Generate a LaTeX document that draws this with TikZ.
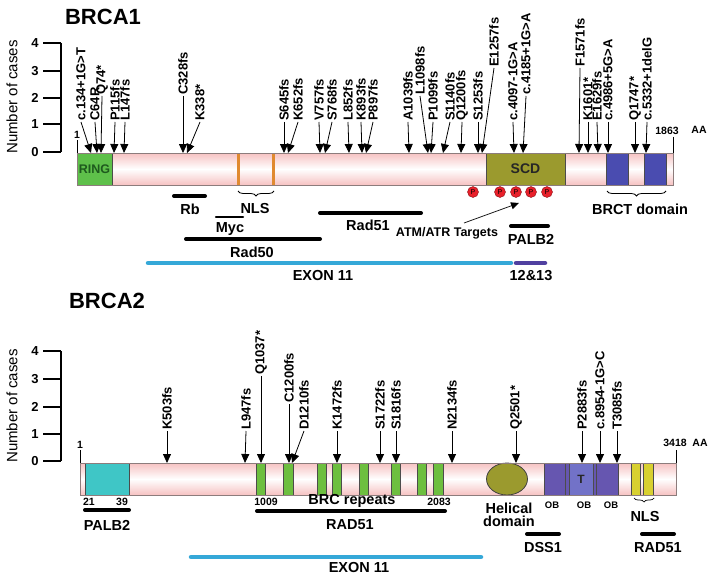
\documentclass[tikz,border=0pt]{standalone}
\usepackage{fontspec}
\setmainfont{Liberation Sans}
\usetikzlibrary{arrows.meta,decorations.pathreplacing,shapes.geometric}
\newcommand\myfs[1]{\fontsize{#1}{#1}\selectfont}
\definecolor{barpk}{HTML}{F6C2C2}
\definecolor{barln}{HTML}{8C7C7C}
\definecolor{ringg}{HTML}{5EC04A}
\definecolor{ringt}{HTML}{1E5A1E}
\definecolor{scdol}{HTML}{9B9A2E}
\definecolor{brctb}{HTML}{4A4CB0}
\definecolor{nlsor}{HTML}{E08A30}
\definecolor{pred}{HTML}{E8202A}
\definecolor{exonc}{HTML}{35A8D8}
\definecolor{ex12}{HTML}{5040A0}
\definecolor{palc}{HTML}{3FC6C6}
\definecolor{brcg}{HTML}{6DBF3F}
\definecolor{obdk}{HTML}{6656B0}
\definecolor{oblt}{HTML}{7272C8}
\definecolor{nlsy}{HTML}{D8D030}
\newcommand\mutarr[6]{\node[mlbl] (#1) at (#2,#3) {#6};\coordinate (#1t) at (#4,#5);\draw[marr] (#1.west) -- (#1t);}
\begin{document}
\begin{tikzpicture}[x=1pt,y=-1pt,
 mlbl/.style={rotate=90, anchor=west, inner sep=1pt, font=\bfseries\myfs{13}},
 marr/.style={line width=0.8pt, -{Triangle[length=9pt,width=8pt]}},
 blk/.style={line width=4pt, line cap=round},
 lab/.style={font=\bfseries\myfs{14.5}, inner sep=0pt},
 small/.style={font=\bfseries\myfs{10.5}, inner sep=0pt},
 tick/.style={font=\bfseries\myfs{13}, inner sep=0pt},
 ttl/.style={font=\bfseries\myfs{22}, inner sep=0pt},
 ylab/.style={font=\myfs{15}, rotate=90, inner sep=0pt},
 barb/.style={draw=barln, line width=1pt},
 dom/.style={draw=black!70, line width=0.6pt},
 ax/.style={line width=1.5pt},
 brc/.style={decorate, decoration={brace, amplitude=5pt}, line width=0.8pt},
 pc/.style={circle, fill=pred, draw=pred!60!black, line width=0.4pt, minimum size=11pt, inner sep=0pt, font=\myfs{7}}
]
\useasboundingbox (0,0) rectangle (709,575);
%================ BRCA1 ================
\node[ttl] (t1) at (103,17) {BRCA1};
\node[ylab] (y1) at (12,97) {Number of cases};
\draw[ax] (61,43) -- (61,152);
\foreach \v/\yy in {4/43,3/71,2/98,1/124,0/152}{
  \draw[ax] (43,\yy) -- (61,\yy);
  \node[tick] (ya\v) at (35,\yy) {\v};}
% bar
\shade[top color=barpk, bottom color=barpk, middle color=white] (77,153) rectangle (673,185);
\fill[ringg] (77,153) rectangle (112,185);
\draw[dom] (112,153) -- (112,185);
\node[font=\bfseries\myfs{12.5}, text=ringt, inner sep=0pt] (ring) at (94.5,169) {RING};
\fill[nlsor] (237,153) rectangle (240,185);
\fill[nlsor] (272,153) rectangle (275,185);
\fill[scdol] (486,153) rectangle (565,185);
\draw[dom] (486,153) rectangle (565,185);
\node[font=\bfseries\myfs{14}, text=black!85, inner sep=0pt] (scd) at (525.5,169) {SCD};
\fill[brctb] (606,153) rectangle (628,185);
\fill[brctb] (644,153) rectangle (666,185);
\draw[dom] (606,153) rectangle (628,185) (644,153) rectangle (666,185);
\draw[barb] (77,153) rectangle (673,185);
\node[small] (one1) at (77,135) {1};
\draw[line width=0.6pt] (77,140) -- (77,153);
\node[small] (len1) at (667,131) {1863};
\node[small] (aa1) at (699,130) {AA};
\draw[line width=0.6pt] (673,137) -- (673,153);
% mutation arrows
\mutarr{a1}{81}{122}{91}{153}{c.134+1G>T}
\mutarr{a2}{95}{122}{97}{153}{C64R}
\mutarr{a3}{102}{96}{101}{153}{Q74*}
\mutarr{a4}{115}{122}{114}{153}{P115fs}
\mutarr{a5}{125}{122}{124}{153}{L147fs}
\mutarr{a6}{183}{96}{183}{153}{C328fs}
\mutarr{a7}{200}{122}{187}{153}{K338*}
\mutarr{a8}{284}{122}{284}{153}{S645fs}
\mutarr{a9}{298}{122}{288}{153}{K652fs}
\mutarr{a10}{319}{122}{320}{153}{V757fs}
\mutarr{a11}{332}{122}{325}{153}{S768fs}
\mutarr{a12}{348}{122}{349}{153}{L852fs}
\mutarr{a13}{361}{122}{362}{153}{K893fs}
\mutarr{a14}{373}{122}{366}{153}{P897fs}
\mutarr{a15}{408}{122}{409}{153}{A1039fs}
\mutarr{a16}{420}{96}{428}{153}{L1098fs}
\mutarr{a17}{433}{122}{431}{153}{P1099fs}
\mutarr{a18}{450}{122}{443}{153}{S1140fs}
\mutarr{a19}{462}{122}{461}{153}{Q1200fs}
\mutarr{a20}{478}{122}{478}{153}{S1253fs}
\mutarr{a21}{494}{68}{482}{153}{E1257fs}
\mutarr{a22}{513}{122}{514}{153}{c.4097-1G>A}
\mutarr{a23}{526}{96}{523}{153}{c.4185+1G>A}
\mutarr{a24}{580}{68}{579}{153}{F1571fs}
\mutarr{a25}{588}{122}{588}{153}{K1601*}
\mutarr{a26}{597}{122}{598}{153}{E1629fs}
\mutarr{a27}{608}{122}{608}{153}{c.4986+5G>A}
\mutarr{a28}{635}{122}{635}{153}{Q1747*}
\mutarr{a29}{647}{122}{646}{153}{c.5332+1delG}
% phospho
\node[pc] (p1) at (473,192) {P};
\node[pc] (p2) at (500,192) {P};
\node[pc] (p3) at (516,192) {P};
\node[pc] (p4) at (531,192) {P};
\node[pc] (p5) at (547,192) {P};
% binding regions
\draw[blk] (174,196) -- (205,196);
\node[lab] (rb) at (190,209) {Rb};
\draw[brc] (274,191) -- (238,191);
\node[lab] (nls1) at (255,209) {NLS};
\draw[line width=2.5pt, line cap=round] (216,217) -- (243,217);
\node[lab] (myc) at (230,229) {Myc};
\draw[blk] (186,239) -- (320,239);
\node[lab] (rad50) at (252,252) {Rad50};
\draw[blk] (320,213) -- (421,213);
\node[lab] (rad51a) at (368,225) {Rad51};
\node[font=\bfseries\myfs{12.5}, inner sep=1pt] (atm) at (447,233) {ATM/ATR Targets};
\coordinate (atmt) at (519,203);
\draw[line width=0.7pt, -{Triangle[length=8pt,width=7pt]}] (464,223) -- (atmt);
\draw[blk] (511,226) -- (548,226);
\node[lab] (palb2a) at (531,239) {PALB2};
\draw[line width=4.5pt, line cap=round, exonc] (148,263) -- (511,263);
\node[lab] (ex11a) at (323,276) {EXON 11};
\draw[line width=4.5pt, line cap=round, ex12] (516,263) -- (545,263);
\node[lab] (ex12) at (531,276) {12\&13};
\draw[brc] (666,191) -- (607,191);
\node[lab] (brct) at (640,209) {BRCT domain};
%================ BRCA2 ================
\node[ttl] (t2) at (107,301) {BRCA2};
\node[ylab] (y2) at (12,406) {Number of cases};
\draw[ax] (61,351) -- (61,461);
\foreach \v/\yy in {4/351,3/379,2/407,1/434,0/461}{
  \draw[ax] (43,\yy) -- (61,\yy);
  \node[tick] (yb\v) at (35,\yy) {\v};}
\shade[top color=barpk, bottom color=barpk, middle color=white] (80,463) rectangle (676,495);
\fill[palc] (85,463) rectangle (129,495);
\draw[dom] (85,463) rectangle (129,495);
\foreach \a/\b in {256/265,283/293,317/326,332/341,359/368,391/400,417/426,433/443}{
  \fill[brcg] (\a,463) rectangle (\b,495);
  \draw[dom] (\a,463) rectangle (\b,495);}
\node[ellipse, minimum width=41pt, minimum height=32pt, fill=scdol, draw=black!75, line width=0.8pt, inner sep=0pt] (helix) at (507,479) {};
\fill[obdk] (544,463) rectangle (618,495);
\fill[oblt] (569,463) rectangle (593,495);
\draw[dom] (544,463) rectangle (618,495);
\draw[dom] (565,463) -- (565,495) (569,463) -- (569,495) (593,463) -- (593,495) (596,463) -- (596,495);
\node[font=\bfseries\myfs{12}, text=black!85, inner sep=0pt] (tt) at (581,479) {T};
\fill[nlsy] (631,463) rectangle (640,495);
\fill[nlsy] (643,463) rectangle (653,495);
\draw[dom] (631,463) rectangle (640,495) (643,463) rectangle (653,495);
\draw[barb] (80,463) rectangle (676,495);
\node[small] (one2) at (80,445) {1};
\draw[line width=0.6pt] (80,450) -- (80,463);
\node[small] (len2) at (675,443) {3418};
\node[small] (aa2) at (700,443) {AA};
\draw[line width=0.6pt] (676,450) -- (676,463);
\mutarr{b1}{167}{431}{167}{463}{K503fs}
\mutarr{b2}{246}{431}{245}{463}{L947fs}
\mutarr{b3}{261}{376}{261}{463}{Q1037*}
\mutarr{b4}{289}{404}{289}{463}{C1200fs}
\mutarr{b5}{304}{431}{292}{463}{D1210fs}
\mutarr{b6}{337}{431}{337}{463}{K1472fs}
\mutarr{b7}{380}{431}{380}{463}{S1722fs}
\mutarr{b8}{396}{431}{396}{463}{S1816fs}
\mutarr{b9}{452}{431}{452}{463}{N2134fs}
\mutarr{b10}{516}{431}{516}{463}{Q2501*}
\mutarr{b11}{582}{431}{582}{463}{P2883fs}
\mutarr{b12}{600}{431}{600}{463}{c.8954-1G>C}
\mutarr{b13}{617}{431}{617}{463}{T3085fs}
% lower labels
\node[small] (n21) at (89,502) {21};
\node[small] (n39) at (122,502) {39};
\draw[blk] (85,510) -- (129,510);
\node[lab] (palb2b) at (107,525) {PALB2};
\node[small] (n1009) at (266,502) {1009};
\node[lab] (brcr) at (352,501) {BRC repeats};
\node[small] (n2083) at (439,502) {2083};
\draw[blk] (257,511) -- (445,511);
\node[lab] (rad51b) at (350,525) {RAD51};
\node[font=\bfseries\myfs{14.5}, inner sep=0pt, align=center] (hel) at (509,515) {Helical\\[-1pt]domain};
\node[font=\bfseries\myfs{9.5}, inner sep=0pt] (ob1) at (552,505) {OB};
\node[font=\bfseries\myfs{9.5}, inner sep=0pt] (ob2) at (584,505) {OB};
\node[font=\bfseries\myfs{9.5}, inner sep=0pt] (ob3) at (611,505) {OB};
\draw[decorate, decoration={brace, amplitude=4pt}, line width=0.7pt] (654,498) -- (634,498);
\node[lab] (nls2) at (645,517) {NLS};
\draw[blk] (527,534) -- (559,534);
\node[lab] (dss1) at (543,548) {DSS1};
\draw[blk] (642,534) -- (674,534);
\node[lab] (rad51c) at (658,548) {RAD51};
\draw[line width=4.5pt, line cap=round, exonc] (191,557) -- (481,557);
\node[lab] (ex11b) at (359,567.5) {EXON 11};
\end{tikzpicture}
\end{document}
